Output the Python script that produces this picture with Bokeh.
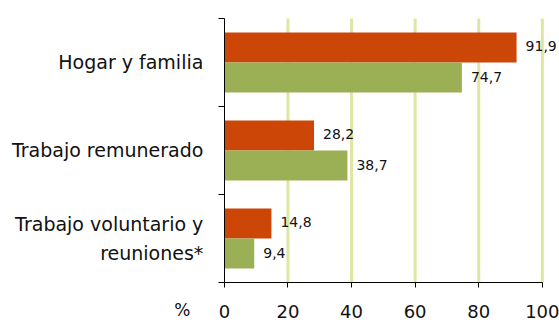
from bokeh.plotting import figure
from bokeh.models import Range1d, FixedTicker, Label, ColumnDataSource
from bokeh.transform import dodge
from bokeh.core.properties import value
from bokeh.embed import file_html
from bokeh.resources import INLINE

categories = ["Hogar y familia", "Trabajo remunerado", "Trabajo voluntario y\nreuniones*"]
series_red = [91.9, 28.2, 14.8]
series_green = [74.7, 38.7, 9.4]
x_ticks = [0, 20, 40, 60, 80, 100]
unit_label = "%"

RED = "#cc4608"
GREEN = "#9bb055"
GRID = "#dfe6a2"
FONT = "DejaVu Sans"
TXT = "#111111"

n = len(categories)
ypos = [n - 0.5 - i for i in range(n)]


def fmt(v):
    return f"{v:.1f}".replace(".", ",")


src = ColumnDataSource(dict(
    y=ypos, red=series_red, green=series_green,
    red_lbl=[fmt(v) for v in series_red],
    green_lbl=[fmt(v) for v in series_green],
))
grid_src = ColumnDataSource(dict(
    x=x_ticks[1:], y0=[0] * (len(x_ticks) - 1), y1=[n] * (len(x_ticks) - 1),
))

# frame covers the whole canvas; axes are pinned at x=0 / y=0
p = figure(width=559, height=322, output_backend="svg", toolbar_location=None,
           x_range=Range1d(-70.4, 105.4), y_range=Range1d(-0.4545, n + 0.2045),
           min_border=0)
p.outline_line_color = None
p.background_fill_color = "white"
p.xgrid.visible = False
p.ygrid.visible = False

# vertical grid lines between the axis ends
p.segment(x0="x", x1="x", y0="y0", y1="y1", line_color=GRID, line_width=3,
          source=grid_src)

p.hbar(y=dodge("y", 0.17), left=0, right="red", height=0.34,
       fill_color=RED, line_color=None, source=src)
p.hbar(y=dodge("y", -0.17), left=0, right="green", height=0.34,
       fill_color=GREEN, line_color=None, source=src)

p.text(x="red", y=dodge("y", 0.19), text="red_lbl", x_offset=9,
       text_baseline="middle", text_align="left",
       text_font=value(FONT), text_font_size=value("14px"), text_color=TXT,
       source=src)
p.text(x="green", y=dodge("y", -0.16), text="green_lbl", x_offset=9,
       text_baseline="middle", text_align="left",
       text_font=value(FONT), text_font_size=value("14px"), text_color=TXT,
       source=src)

# x axis
xa = p.xaxis[0]
xa.fixed_location = 0
xa.ticker = FixedTicker(ticks=x_ticks)
xa.bounds = (0, 100)
xa.axis_line_color = "black"
xa.major_tick_out = 5
xa.major_tick_in = 0
xa.minor_tick_out = 0
xa.minor_tick_in = 0
xa.major_label_standoff = 17
xa.major_label_text_font = FONT
xa.major_label_text_font_size = "18px"
xa.major_label_text_color = TXT

# y axis
ya = p.yaxis[0]
ya.fixed_location = 0
ya.bounds = (0, n)
ya.ticker = FixedTicker(ticks=ypos, minor_ticks=list(range(n + 1)))
ya.major_label_overrides = {y: c for y, c in zip(ypos, categories)}
ya.axis_line_color = "black"
ya.major_tick_out = 0
ya.major_tick_in = 0
ya.minor_tick_out = 6
ya.minor_tick_in = 0
ya.minor_tick_line_color = "black"
ya.major_label_standoff = 15
ya.major_label_text_font = FONT
ya.major_label_text_font_size = "19px"
ya.major_label_text_color = TXT
ya.major_label_text_line_height = 1.28

p.add_layout(Label(x=-13.2, y=-0.318, text=unit_label, text_align="center",
                   text_baseline="middle", text_font=FONT,
                   text_font_size="17px", text_color=TXT))

open("out.html", "w").write(file_html(p, INLINE))
